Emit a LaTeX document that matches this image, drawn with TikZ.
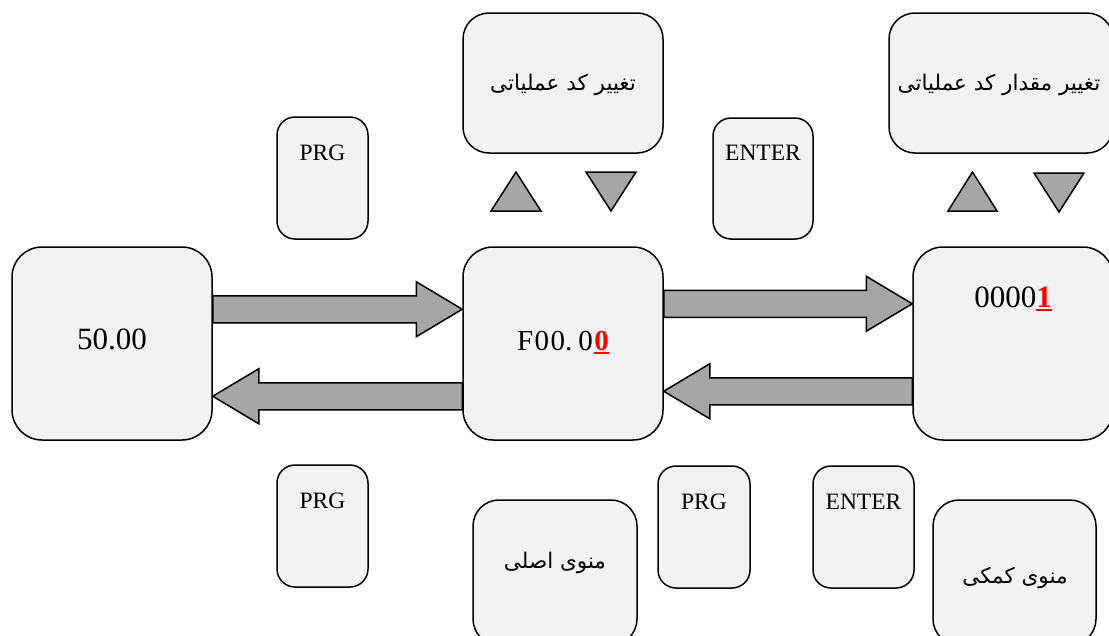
\documentclass[tikz,border=0pt]{standalone}
\usepackage{fontspec}
\setmainfont{Liberation Serif}
\newfontfamily\fa[Script=Arabic]{DejaVu Sans}
\TeXXeTstate=1
\usetikzlibrary{calc}
\definecolor{boxfill}{HTML}{F2F2F2}
\definecolor{arrowfill}{HTML}{A6A6A6}
\newcommand\ulred[1]{\setbox0\hbox{\textcolor{red}{\bfseries #1}}\rlap{\textcolor{red}{\rule[-4pt]{\wd0}{2pt}}}\box0}
\newcommand\rarrow[2]{\path[blockarrow] let \p1=(#1), \p2=(#2) in
  (\x1,\y1+13.5pt) -- (\x2-46pt,\y1+13.5pt) -- (\x2-46pt,\y1+27.5pt) -- (\x2,\y1)
  -- (\x2-46pt,\y1-27.5pt) -- (\x2-46pt,\y1-13.5pt) -- (\x1,\y1-13.5pt) -- cycle;}
\newcommand\larrow[2]{\path[blockarrow] let \p1=(#1), \p2=(#2) in
  (\x1,\y1+13.5pt) -- (\x2+46pt,\y1+13.5pt) -- (\x2+46pt,\y1+27.5pt) -- (\x2,\y1)
  -- (\x2+46pt,\y1-27.5pt) -- (\x2+46pt,\y1-13.5pt) -- (\x1,\y1-13.5pt) -- cycle;}
\begin{document}
\begin{tikzpicture}[x=1pt,y=-1pt,
  panel/.style={draw=black, line width=1.5pt, fill=boxfill, rounded corners=30pt, inner sep=0pt},
  keybox/.style={draw=black, line width=1.5pt, fill=boxfill, rounded corners=18pt, inner sep=0pt},
  keytext/.style={inner sep=0pt, font=\fontsize{23.5}{26}\selectfont},
  fatext/.style={inner sep=0pt, font=\fa\fontsize{21.5}{24}\selectfont},
  blockarrow/.style={draw=black, line width=1.5pt, fill=arrowfill, line join=miter},
  tri/.style={draw=black, line width=1.5pt, fill=arrowfill, line join=miter}]
\useasboundingbox (0,0) rectangle (1109,635);
\clip (0,0) rectangle (1109,635);
% main displays
\node[panel, minimum width=200pt, minimum height=193pt] (big) at (112,343.5) {};
\node[panel, minimum width=200pt, minimum height=193pt] (mid) at (563,343.5) {};
\node[panel, minimum width=200pt, minimum height=193pt] (right) at (1013,343.5) {};
\node[inner sep=0pt, anchor=base, font=\fontsize{31}{34}\selectfont] (t50) at (112,349) {50.00};
\node[inner sep=0pt, anchor=base, font=\fontsize{29}{32}\selectfont] (tF) at (563,350) {F\hspace{1.5pt}0\hspace{1.5pt}0.\hspace{6pt}0\hspace{1.5pt}\ulred{0}};
\node[inner sep=0pt, anchor=base, font=\fontsize{31}{34}\selectfont] (t1) at (1013,307) {0000\ulred{1}};
% top panels
\node[panel, rounded corners=26pt, minimum width=200pt, minimum height=140pt] (top1) at (563,83) {};
\node[fatext] (top1t) at (563,85) {\beginR تغییر کد عملیاتی\endR};
\node[panel, rounded corners=26pt, minimum width=224pt, minimum height=140pt] (top2) at (1001,83) {};
\node[fatext] (top2t) at (999,85) {\beginR تغییر مقدار کد عملیاتی\endR};
% triangles
\draw[tri] (491,211) -- (516,172) -- (541,211) -- cycle;
\draw[tri] (586,172) -- (636,172) -- (611,211) -- cycle;
\draw[tri] (948,211) -- (972.5,172) -- (997,211) -- cycle;
\draw[tri] (1034,173) -- (1084,173) -- (1059,212) -- cycle;
% keys
\node[keybox, minimum width=91pt, minimum height=122pt] (prgT) at (322.5,178) {};
\node[keytext] (prgTt) at (322.5,153) {PRG};
\node[keybox, minimum width=100pt, minimum height=121pt] (entT) at (763,178.5) {};
\node[keytext] (entTt) at (763,153) {ENTER};
\node[keybox, minimum width=91pt, minimum height=122pt] (prgB) at (322.5,526) {};
\node[keytext] (prgBt) at (322.5,501) {PRG};
\node[keybox, minimum width=92pt, minimum height=122pt] (prgM) at (704,527) {};
\node[keytext] (prgMt) at (704,502) {PRG};
\node[keybox, minimum width=101pt, minimum height=122pt] (entB) at (863.5,527) {};
\node[keytext] (entBt) at (863.5,502) {ENTER};
% bottom menus
\node[panel, rounded corners=26pt, minimum width=164pt, minimum height=145pt] (menu1) at (555,572.5) {};
\node[fatext] (menu1t) at (555,563) {\beginR منوی اصلی\endR};
\node[panel, rounded corners=26pt, minimum width=163pt, minimum height=145pt] (menu2) at (1014.5,572.5) {};
\node[fatext] (menu2t) at (1015,578) {\beginR منوی کمکی\endR};
% arrows
\coordinate (a1s) at ($(big.north east)+(0,63)$);
\coordinate (a1e) at ($(mid.north west)+(0,63)$);
\coordinate (a2s) at ($(mid.north west)+(0,150)$);
\coordinate (a2e) at ($(big.north east)+(0,150)$);
\coordinate (a3s) at ($(mid.north east)+(0,57.5)$);
\coordinate (a3e) at ($(right.north west)+(0,57.5)$);
\coordinate (a4s) at ($(right.north west)+(0,145)$);
\coordinate (a4e) at ($(mid.north east)+(0,145)$);
\rarrow{a1s}{a1e}
\larrow{a2s}{a2e}
\rarrow{a3s}{a3e}
\larrow{a4s}{a4e}
\end{tikzpicture}
\end{document}
